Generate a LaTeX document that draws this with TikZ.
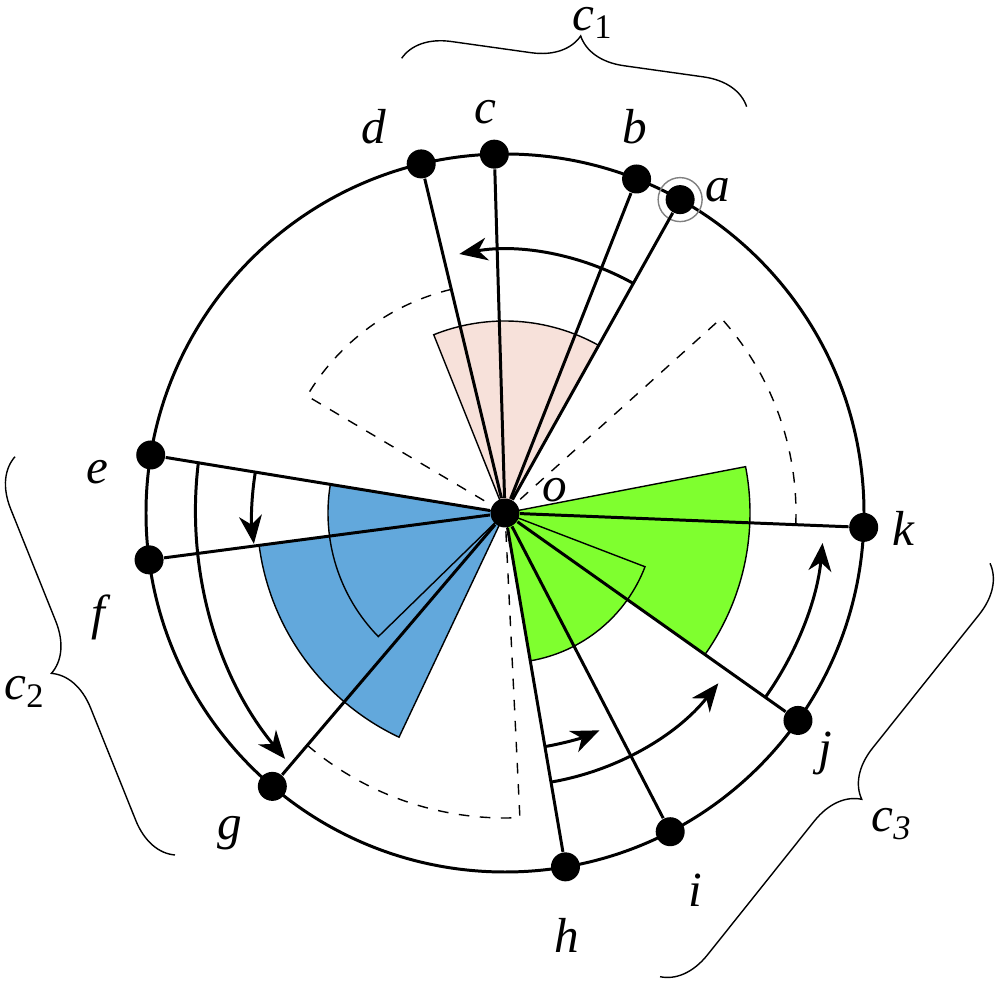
\documentclass[tikz,border=0pt]{standalone}
\usepackage{fontspec}
\setmainfont{Liberation Serif}
\usetikzlibrary{arrows.meta,decorations.pathreplacing}
\definecolor{rosa}{RGB}{247,225,218}
\definecolor{azul}{RGB}{98,168,220}
\definecolor{verde}{RGB}{127,255,47}
\begin{document}
\begin{tikzpicture}[scale=0.1,
  punto/.style={circle, fill=black, inner sep=0pt, minimum size=2.9mm},
  radio/.style={line width=0.85pt},
  borde/.style={line width=0.4pt},
  flecha/.style={line width=0.85pt, -{Stealth[length=8pt,width=6.5pt,inset=2.5pt]}},
  llave/.style={line width=0.4pt, decorate, decoration={brace, amplitude=4.7mm}},
  etq/.style={font=\fontsize{14}{16}\selectfont\itshape, inner sep=0pt}]
\useasboundingbox (-50.5,-47) rectangle (49.5,51.3);
% Sector rosa
\fill[rosa] (0,0) -- (60.8:19.2) arc (60.8:111.8:19.2) -- cycle;
\draw[borde] (60.8:19.2) arc (60.8:111.8:19.2) -- (0,0);
% Sector azul
\fill[azul] (0,0) -- (170.7:17.7) arc (170.7:187.5:17.7) -- (187.5:24.8)
  arc (187.5:244.7:24.8) -- cycle;
\draw[borde] (187.5:24.8) arc (187.5:244.7:24.8) -- (0,0);
\draw[borde] (0,0) -- (170.7:17.7) arc (170.7:224.3:17.7) -- cycle;
% Sector verde
\fill[verde] (0,0) -- (-80.3:15) arc (-80.3:-35.3:15) -- (-35.3:24.5)
  arc (-35.3:10.9:24.5) -- cycle;
\draw[borde] (-35.3:24.5) arc (-35.3:10.9:24.5) -- (0,0);
\draw[borde] (0,0) -- (-80.3:15) arc (-80.3:-21:15) -- cycle;
% Sectores punteados
\draw[borde, dashed] (103.5:23) arc (103.5:149.4:23) -- (0,0);
\draw[borde, dashed] (-2.3:29.1) arc (-2.3:42:29.1) -- (0,0);
\draw[borde, dashed] (229.6:30.5) arc (229.6:272.8:30.5) -- (0,0);
% Circunferencia
\draw[radio] (0,0) circle (35.9);
% Giros
\draw[flecha] (60.8:26.3) arc (60.8:100:26.3);
\draw[flecha] (170.7:25.3) arc (170.7:187:25.3);
\draw[flecha] (-30.67,4.99) arc (173.1:219.6:39.05);
\draw[flecha] (-80.3:23.7) arc (-80.3:-66.5:23.7);
\draw[flecha] (-80.3:27.3) arc (-80.3:-38.6:27.3);
\draw[flecha] (-35.3:31.9) arc (-35.3:-5.4:31.9);
% Puntos
\node[punto] (o) at (0,0) {};
\node[punto] (a) at (60.8:35.9) {};
\node[punto] (b) at (68.5:35.9) {};
\node[punto] (c) at (91.7:35.9) {};
\node[punto] (d) at (103.5:35.9) {};
\node[punto] (e) at (170.7:35.9) {};
\node[punto] (f) at (187.5:35.9) {};
\node[punto] (g) at (229.6:35.9) {};
\node[punto] (h) at (279.7:35.9) {};
\node[punto] (i) at (297.4:35.9) {};
\node[punto] (j) at (324.7:35.9) {};
\node[punto] (k) at (357.7:35.9) {};
\draw[gray, borde] (a) circle (2.2);
% Radios
\foreach \p in {a,b,c,d,e,f,g,h,i,j,k}
  \draw[radio] (o) -- (\p);
% Etiquetas
\node[etq] (la) at (21.3,32.3) {a};
\node[etq] (lb) at (13,38.6) {b};
\node[etq] (lc) at (-2,40.1) {c};
\node[etq] (ld) at (-13.1,38.6) {d};
\node[etq] (le) at (-40.8,4.1) {e};
\node[etq] (lf) at (-40.7,-10.4) {f};
\node[etq] (lg) at (-27.5,-32) {g};
\node[etq] (lh) at (6.2,-42.2) {h};
\node[etq] (li) at (19,-37.7) {i};
\node[etq] (lj) at (32,-24) {j};
\node[etq] (lk) at (39.8,-1.5) {k};
\node[etq] (lo) at (5,2.3) {o};
% Llaves
\draw[llave] (-10.33,45.47) -- (24.17,40.63);
\draw[llave] (-33,-34.2) -- (-49,5.63);
\draw[llave] (48.5,-5.03) -- (15.5,-46.37);
\node[etq, anchor=base] (lc1) at (8.8,48.2) {c\textsubscript{\upshape 1}};
\node[etq] (lc2) at (-48,-17.9) {c\textsubscript{\upshape 2}};
\node[etq] (lc3) at (38.7,-31.1) {c\textsubscript{3}};
\end{tikzpicture}
\end{document}
